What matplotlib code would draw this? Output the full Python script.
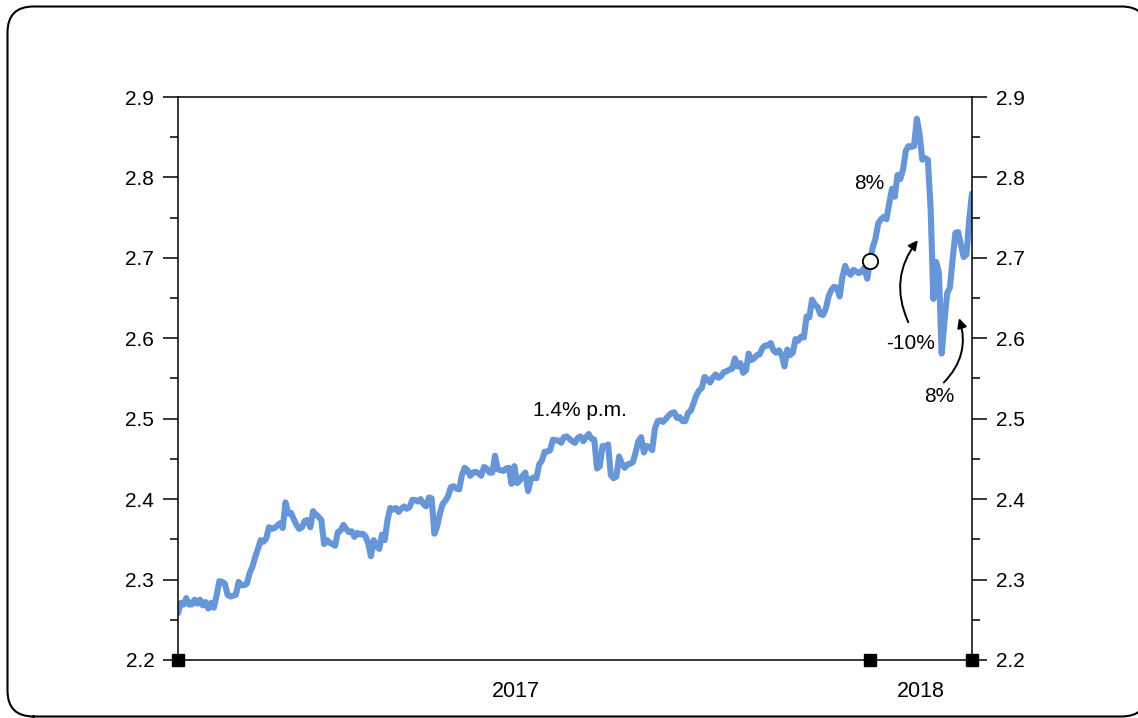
import numpy as np
import matplotlib
matplotlib.use("Agg")
import matplotlib.pyplot as plt
from matplotlib.patches import FancyBboxPatch

plt.rcParams['font.family'] = ['Liberation Sans', 'DejaVu Sans']

# daily closes (thousands), trading days Jan 2017 - Feb 2018
vals_2017 = [
    # Jan
    2.258, 2.271, 2.269, 2.277, 2.269, 2.269, 2.275, 2.270, 2.275, 2.268,
    2.272, 2.264, 2.271, 2.265, 2.280, 2.298, 2.297, 2.295, 2.281, 2.279,
    # Feb
    2.280, 2.281, 2.297, 2.293, 2.293, 2.295, 2.308, 2.316, 2.328, 2.338,
    2.349, 2.347, 2.351, 2.365, 2.363, 2.364, 2.367, 2.370, 2.364,
    # Mar
    2.396, 2.382, 2.383, 2.375, 2.368, 2.363, 2.365, 2.373, 2.374, 2.365,
    2.385, 2.381, 2.378, 2.374, 2.344, 2.349, 2.346, 2.344, 2.342, 2.359,
    2.361, 2.368, 2.363,
    # Apr
    2.359, 2.360, 2.353, 2.358, 2.356, 2.357, 2.354, 2.345, 2.329, 2.349,
    2.342, 2.338, 2.356, 2.349, 2.374, 2.389, 2.387, 2.389, 2.384,
    # May
    2.388, 2.391, 2.388, 2.390, 2.399, 2.399, 2.397, 2.400, 2.394, 2.391,
    2.402, 2.401, 2.357, 2.366, 2.382, 2.394, 2.398, 2.404, 2.415, 2.416,
    2.413, 2.412,
    # Jun
    2.430, 2.439, 2.436, 2.429, 2.433, 2.434, 2.432, 2.429, 2.440, 2.438,
    2.433, 2.433, 2.454, 2.437, 2.436, 2.435, 2.438, 2.439, 2.419, 2.441,
    2.420, 2.423,
    # Jul
    2.429, 2.433, 2.410, 2.425, 2.427, 2.426, 2.443, 2.448, 2.459, 2.459,
    2.461, 2.474, 2.473, 2.473, 2.470, 2.477, 2.478, 2.475, 2.472, 2.470,
    # Aug
    2.476, 2.478, 2.472, 2.477, 2.481, 2.475, 2.474, 2.438, 2.441, 2.466,
    2.465, 2.468, 2.430, 2.426, 2.428, 2.453, 2.444, 2.439, 2.443, 2.444,
    2.446, 2.458, 2.472,
    # Sep
    2.477, 2.458, 2.466, 2.465, 2.461, 2.488, 2.497, 2.498, 2.496, 2.500,
    2.504, 2.507, 2.508, 2.501, 2.502, 2.497, 2.497, 2.507, 2.510, 2.519,
    # Oct
    2.529, 2.535, 2.538, 2.552, 2.549, 2.545, 2.551, 2.555, 2.551, 2.553,
    2.558, 2.559, 2.561, 2.562, 2.575, 2.565, 2.569, 2.557, 2.560, 2.581,
    2.573, 2.575,
    # Nov
    2.579, 2.580, 2.588, 2.591, 2.591, 2.594, 2.585, 2.582, 2.585, 2.579,
    2.565, 2.586, 2.579, 2.582, 2.599, 2.597, 2.602, 2.601, 2.627, 2.626,
    2.648,
    # Dec
    2.642, 2.639, 2.630, 2.629, 2.637, 2.652, 2.660, 2.664, 2.663, 2.652,
    2.676, 2.690, 2.682, 2.679, 2.685, 2.683, 2.681, 2.683, 2.688, 2.674,
]
vals_2018 = [
    # Jan
    2.696, 2.713, 2.724, 2.743, 2.748, 2.751, 2.748, 2.768, 2.786, 2.776,
    2.803, 2.798, 2.810, 2.833, 2.839, 2.838, 2.839, 2.873, 2.854, 2.822,
    2.824,
    # Feb
    2.822, 2.762, 2.649, 2.695, 2.682, 2.581, 2.620, 2.656, 2.663, 2.699,
    2.731, 2.732, 2.716, 2.701, 2.704, 2.747, 2.780,
]
year_labels = ["2017", "2018"]
y_ticks = [2.2, 2.3, 2.4, 2.5, 2.6, 2.7, 2.8, 2.9]
notes = ["1.4% p.m.", "8%", "-10%", "8%"]

values = np.array(vals_2017 + vals_2018)
days = np.arange(len(values))
n17 = len(vals_2017)
last = len(values) - 1

fig = plt.figure(figsize=(11.38, 7.18), dpi=100)

# rounded frame around the whole picture, drawn in a full-figure pixel axes
# (flattened to a polyline so the part running off the right edge clips cleanly)
bg = fig.add_axes([0, 0, 1, 1])
bg.set_xlim(0, 1138)
bg.set_ylim(0, 718)
bg.axis("off")
box = FancyBboxPatch((7.5, 1.5), 1140, 710, boxstyle="round,pad=0,rounding_size=26")
for poly in box.get_path().to_polygons(closed_only=False):
    bg.plot(poly[:, 0], poly[:, 1], color="black", lw=1.5)

ax = fig.add_axes([0.1564, 0.0808, 0.6977, 0.7841])
ax.plot(days, values, color="#6796d8", lw=4.4, solid_joinstyle="round",
        solid_capstyle="round", zorder=2)
ax.plot([n17], [values[n17]], "o", ms=11, mfc="white", mec="black", mew=1.3, zorder=4)

ax.set_xlim(0, last)
ax.set_ylim(2.2, 2.9)
ax.set_xticks([])
ax.set_yticks(y_ticks)
ax.set_yticks(np.arange(2.25, 2.9, 0.1), minor=True)
ax.tick_params(axis="y", which="major", direction="out", length=11, width=1.1,
               labelsize=15, pad=6, left=True, right=True, labelleft=True, labelright=True)
ax.tick_params(axis="y", which="minor", direction="out", length=6, width=1.1,
               left=True, right=True)
for s in ax.spines.values():
    s.set_linewidth(1.1)

# year markers on the bottom axis
ax.plot([0, n17, last], [2.2, 2.2, 2.2], "s", color="black", ms=8, clip_on=False, zorder=5)
ax.text(n17 / 2 - 3, 2.161, year_labels[0], ha="center", va="center", fontsize=15.5)
ax.text((n17 + last) / 2, 2.161, year_labels[1], ha="center", va="center", fontsize=15.5)

ax.text(145.8, 2.51, notes[0], ha="center", va="center", fontsize=15)
ax.text(250.6, 2.792, notes[1], ha="center", va="center", fontsize=15)
ax.text(265.9, 2.593, notes[2], ha="center", va="center", fontsize=15)
ax.text(276.0, 2.527, notes[3], ha="center", va="center", fontsize=15)

ax.annotate("", xy=(268.4, 2.722), xytext=(264.9, 2.62),
            arrowprops=dict(arrowstyle="-|>", color="black", lw=1.4, mutation_scale=14,
                            connectionstyle="arc3,rad=-0.3", shrinkA=0, shrinkB=0))
ax.annotate("", xy=(283.3, 2.625), xytext=(277.8, 2.545),
            arrowprops=dict(arrowstyle="-|>", color="black", lw=1.4, mutation_scale=14,
                            connectionstyle="arc3,rad=0.3", shrinkA=0, shrinkB=0))

fig.savefig("out.png", dpi=100)
